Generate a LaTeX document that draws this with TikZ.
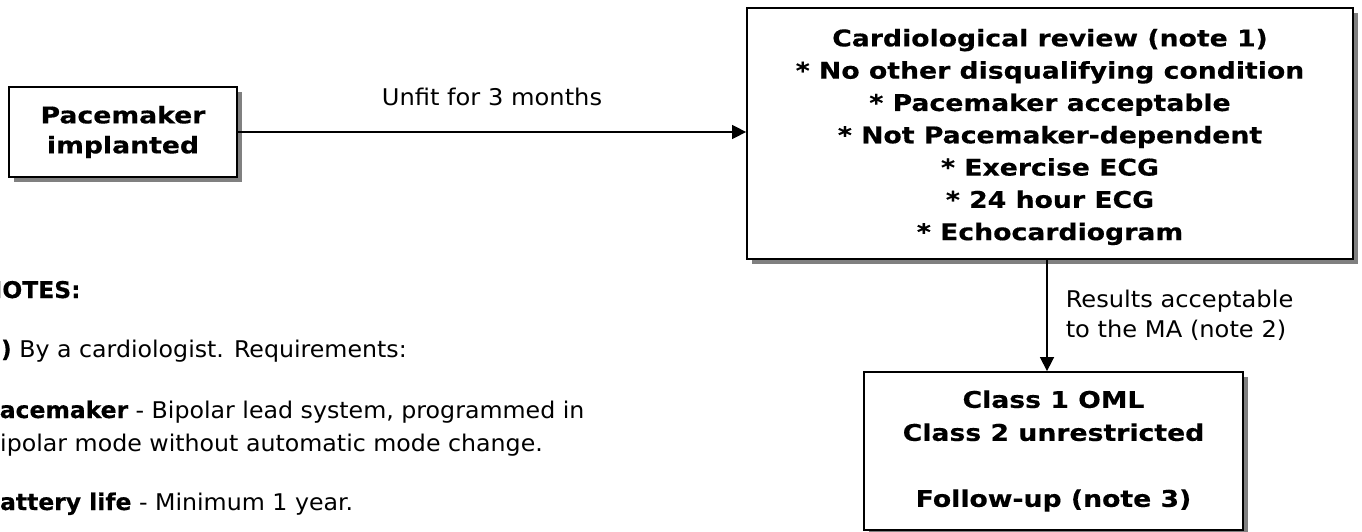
\documentclass[tikz,border=0pt]{standalone}
\usepackage{fontspec}
\setmainfont{DejaVu Sans}[FakeStretch=1.05, BoldFeatures={FakeStretch=1.16, FakeBold=0.4}]
\newfontfamily\notefont{DejaVu Sans}[FakeStretch=1.03, BoldFeatures={FakeStretch=1.02, FakeBold=0.4}]
\usetikzlibrary{arrows.meta,shadows}

\tikzset{
  flowchart/.style={
    stage/.style={
        draw,
        line width=1.8pt,
        fill=white,
        drop shadow={shadow xshift=5pt, shadow yshift=-5pt, fill=black!50, opacity=1},
        align=center,
        inner sep=0pt,
    },
    link/.style={line width=1.5pt, -{Triangle[length=14pt,width=14pt]}},
    note/.style={anchor=base west, inner sep=0pt, font=\notefont\fontsize{23}{30}\selectfont},
  }
}

\begin{document}
\begin{tikzpicture}[x=1pt, y=-1pt, flowchart]
        \tikzstyle{label}=[inner sep=0pt, font=\fontsize{23}{29.5}\selectfont]

        \useasboundingbox (0,0) rectangle (1362,532);
        \clip (0,0) rectangle (1362,532);

        \node[stage, minimum width=228pt, minimum height=90pt,
              font=\bfseries\fontsize{23}{30}\selectfont] (implant) at (123,132) {Pacemaker\\implanted};
        \node[stage, minimum width=606pt, minimum height=251pt,
              font=\bfseries\fontsize{23}{32.3}\selectfont] (review) at (1050,133.5)
              {\rule{0pt}{24.5pt}Cardiological review (note 1)\\* No other disqualifying condition\\* Pacemaker acceptable\\
               * Not Pacemaker-dependent\\* Exercise ECG\\* 24 hour ECG\\* Echocardiogram};
        \node[stage, minimum width=379pt, minimum height=158pt,
              font=\bfseries\fontsize{23}{33}\selectfont] (result) at (1053.5,451)
              {Class 1 OML\\Class 2 unrestricted\\[33pt]Follow-up (note 3)};

        \draw[link] (implant.east) -- (implant.east -| review.west) node[midway, above=25pt, label] (unfit) {Unfit for 3 months};
        \draw[link] ([xshift=-3pt]review.south) -- ([xshift=-3pt]review.south |- result.north) node[midway, right=18pt, label, align=left] (accept) {Results acceptable\\to the MA (note 2)};

        % notes, cut at the left edge
        \node[note, font=\notefont\bfseries\fontsize{23}{30}\selectfont] (n0) at (-17.5,298) {NOTES:};
        \node[note] (n1) at (-15.5,357) {\textbf{1)} By a cardiologist. Requirements:};
        \node[note] (n2) at (-17,418) {\textbf{Pacemaker} - Bipolar lead system, programmed in};
        \node[note] (n3) at (-15,451) {bipolar mode without automatic mode change.};
        \node[note] (n4) at (-18,510) {\textbf{Battery life} - Minimum 1 year.};
\end{tikzpicture}
\end{document}
